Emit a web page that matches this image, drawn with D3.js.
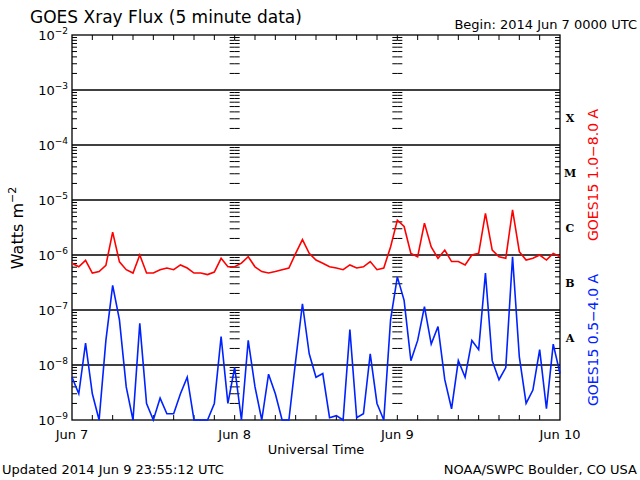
<!DOCTYPE html>
<html>
<head>
<meta charset="utf-8">
<script src="https://cdn.jsdelivr.net/npm/d3@7"></script>
<style>
body { margin: 0; background: #fff; }
text { font-family: "DejaVu Sans", sans-serif; }
</style>
</head>
<body>
<div id="vis"></div>
<script>
// hourly readings, hour 0 = 2014 Jun 7 0000 UTC
const HOURS = d3.range(0, 73);
const LONG_FLUX = [7.1e-7, 6.1e-7, 8.0e-7, 4.7e-7, 5.0e-7, 6.5e-7, 2.6e-6, 7.5e-7, 5.4e-7, 4.7e-7,
  1.0e-6, 4.7e-7, 4.7e-7, 5.4e-7, 5.8e-7, 5.4e-7, 6.6e-7, 5.8e-7, 4.7e-7, 4.7e-7,
  4.4e-7, 4.9e-7, 8.7e-7, 6.1e-7, 6.1e-7, 7.1e-7, 9.3e-7, 6.1e-7, 5.0e-7, 4.7e-7,
  5.0e-7, 5.4e-7, 5.8e-7, 1.07e-6, 1.9e-6, 1.07e-6, 8.1e-7, 7.1e-7, 6.1e-7, 5.8e-7,
  5.4e-7, 6.6e-7, 5.8e-7, 6.1e-7, 7.6e-7, 5.4e-7, 5.8e-7, 1.4e-6, 4.3e-6, 3.3e-6,
  1.07e-6, 9.3e-7, 3.8e-6, 1.4e-6, 8.7e-7, 1.23e-6, 7.6e-7, 7.6e-7, 6.6e-7, 1.0e-6,
  1.07e-6, 5.7e-6, 1.23e-6, 9.3e-7, 8.7e-7, 6.6e-6, 1.15e-6, 8.1e-7, 8.7e-7, 1.0e-6,
  8.1e-7, 1.07e-6, 9.3e-7];
const SHORT_FLUX = [6e-9, 3e-9, 2.5e-8, 3e-9, 1e-9, 2.8e-8, 2.8e-7, 6.6e-8, 4e-9, 1e-9,
  5.7e-8, 2e-9, 1e-9, 2.5e-9, 1.3e-9, 1.3e-9, 3e-9, 6e-9, 1e-9, 1e-9,
  1e-9, 2e-9, 3.3e-8, 2e-9, 9e-9, 1e-9, 2.8e-8, 4e-9, 1e-9, 6.8e-9,
  3e-9, 1e-9, 1e-9, 1.2e-8, 1.3e-7, 1.6e-8, 6e-9, 7e-9, 1.1e-9, 1.2e-9,
  1e-9, 4.4e-8, 1.1e-9, 1.3e-9, 1.6e-8, 2e-9, 1e-9, 6.6e-8, 4e-7, 1.5e-7,
  1.2e-8, 2.8e-8, 1.15e-7, 2.4e-8, 5e-8, 5.4e-9, 1.6e-9, 1.2e-8, 6e-9, 2.8e-8,
  1.9e-8, 4.7e-7, 1.2e-8, 5.4e-9, 9e-9, 9.3e-7, 1.4e-8, 2e-9, 3.5e-9, 1.9e-8,
  1.6e-9, 2.4e-8, 7e-9];
const DECADES = [-9, -8, -7, -6, -5, -4, -3, -2];
const CLASSES = [["A", -8], ["B", -7], ["C", -6], ["M", -5], ["X", -4]];
const DAY_LABELS = ["Jun 7", "Jun 8", "Jun 9", "Jun 10"];

const WIDTH = 640, HEIGHT = 480;
const PLOT = {left: 72, right: 560, top: 35, bottom: 420};

const svg = d3.select("#vis").append("svg")
  .attr("width", WIDTH).attr("height", HEIGHT);

const X_SCALE = d3.scaleLinear().domain([0, 72]).range([PLOT.left, PLOT.right]);
const Y_SCALE = d3.scaleLog().domain([1e-9, 1e-2]).range([PLOT.bottom, PLOT.top]);

// decade lines
svg.append("g").selectAll("line").data(DECADES.slice(1, -1)).enter().append("line")
  .attr("x1", PLOT.left).attr("x2", PLOT.right)
  .attr("y1", d => Y_SCALE(Math.pow(10, d))).attr("y2", d => Y_SCALE(Math.pow(10, d)))
  .attr("stroke", "#000").attr("stroke-width", 1.3);

// minor log ticks on left, right and day boundaries
const minors = [];
DECADES.slice(0, -1).forEach(e => d3.range(2, 10).forEach(m => minors.push(m * Math.pow(10, e))));
[0, 24, 48, 72].forEach(h => {
  const gx = X_SCALE(h);
  const sides = h === 0 ? [1] : h === 72 ? [-1] : [-1, 1];
  sides.forEach(s => {
    svg.append("g").selectAll("line").data(minors).enter().append("line")
      .attr("x1", gx).attr("x2", gx + s * 5)
      .attr("y1", d => Y_SCALE(d)).attr("y2", d => Y_SCALE(d))
      .attr("stroke", "#000");
  });
});

// 3-hour ticks top and bottom
svg.append("g").selectAll("line").data(d3.range(3, 72, 3)).enter().append("line")
  .attr("x1", d => X_SCALE(d)).attr("x2", d => X_SCALE(d))
  .attr("y1", PLOT.bottom).attr("y2", PLOT.bottom - 5).attr("stroke", "#000");
svg.append("g").selectAll("line").data(d3.range(3, 72, 3)).enter().append("line")
  .attr("x1", d => X_SCALE(d)).attr("x2", d => X_SCALE(d))
  .attr("y1", PLOT.top).attr("y2", PLOT.top + 5).attr("stroke", "#000");

// frame
svg.append("rect").attr("x", PLOT.left).attr("y", PLOT.top)
  .attr("width", PLOT.right - PLOT.left).attr("height", PLOT.bottom - PLOT.top)
  .attr("fill", "none").attr("stroke", "#000").attr("stroke-width", 1.3);

// data lines
const line = data => d3.line()
  .x((d, i) => X_SCALE(HOURS[i]))
  .y(d => Y_SCALE(Math.max(d, 1e-9)))(data);
svg.append("path").attr("d", line(LONG_FLUX))
  .attr("fill", "none").attr("stroke", "#ff0000").attr("stroke-width", 1.6);
svg.append("path").attr("d", line(SHORT_FLUX))
  .attr("fill", "none").attr("stroke", "#0022ff").attr("stroke-width", 1.6);

// y tick labels
DECADES.forEach(e => {
  const t = svg.append("text").attr("x", PLOT.left - 4).attr("y", Y_SCALE(Math.pow(10, e)) + 5)
    .attr("text-anchor", "end").style("font-size", "13px").attr("fill", "#000");
  t.append("tspan").text("10");
  t.append("tspan").attr("dy", -6).style("font-size", "9px").text("\u2212" + (-e));
});

// class letters
svg.append("g").selectAll("text").data(CLASSES).enter().append("text")
  .attr("x", 570).attr("y", d => Y_SCALE(Math.pow(10, d[1] + 0.5)) + 4)
  .attr("text-anchor", "middle")
  .style("font-family", "'DejaVu Serif', serif").style("font-weight", "bold").style("font-size", "11px")
  .text(d => d[0]);

// x labels
svg.append("g").selectAll("text").data(DAY_LABELS).enter().append("text")
  .attr("x", (d, i) => X_SCALE(i * 24)).attr("y", 439)
  .attr("text-anchor", "middle").style("font-size", "13px").text(d => d);
svg.append("text").attr("x", 316).attr("y", 454).attr("text-anchor", "middle")
  .style("font-size", "13px").text("Universal Time");

// titles
svg.append("text").attr("x", 30).attr("y", 23).style("font-size", "17px").text("GOES Xray Flux (5 minute data)");
svg.append("text").attr("x", 637).attr("y", 29).attr("text-anchor", "end")
  .style("font-size", "13px").text("Begin:  2014 Jun 7 0000 UTC");
svg.append("text").attr("x", 2).attr("y", 474).style("font-size", "13px").text("Updated 2014 Jun  9 23:55:12 UTC");
svg.append("text").attr("x", 637).attr("y", 474).attr("text-anchor", "end")
  .style("font-size", "13px").text("NOAA/SWPC Boulder, CO USA");

// y axis label
const yl = svg.append("text").attr("transform", "translate(23,228) rotate(-90)")
  .attr("text-anchor", "middle").style("font-size", "16px");
yl.append("tspan").text("Watts m");
yl.append("tspan").attr("dy", -7).style("font-size", "11px").text("\u22122");

// series labels
svg.append("text").attr("transform", "translate(598,175) rotate(-90)")
  .attr("text-anchor", "middle").attr("fill", "#ff0000").style("font-size", "14px")
  .text("GOES15 1.0\u22128.0 A");
svg.append("text").attr("transform", "translate(598,340) rotate(-90)")
  .attr("text-anchor", "middle").attr("fill", "#0022ff").style("font-size", "14px")
  .text("GOES15 0.5\u22124.0 A");
</script>
</body>
</html>
